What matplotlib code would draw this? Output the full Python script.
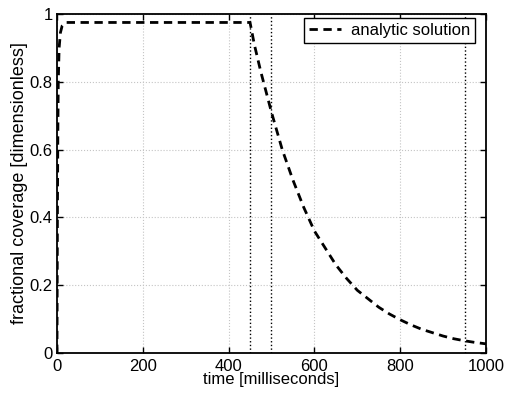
import matplotlib
matplotlib.use("Agg")
import matplotlib.pyplot as plt

plt.rcParams["font.family"] = ["Liberation Sans", "DejaVu Sans"]

# coverage
time_ms = [0, 1, 2, 3, 5, 8, 12, 20, 450, 460, 475, 500, 525, 550, 575, 600,
           625, 650, 675, 700, 725, 750, 775, 800, 825, 850, 875, 900, 925,
           950, 975, 1000]
coverage = [0.0, 0.40, 0.65, 0.80, 0.90, 0.945, 0.965, 0.975, 0.975, 0.91,
            0.83, 0.71, 0.60, 0.51, 0.43, 0.36, 0.31, 0.26, 0.22, 0.185,
            0.16, 0.135, 0.115, 0.098, 0.083, 0.07, 0.06, 0.05, 0.042,
            0.036, 0.031, 0.027]

marker_times = [450, 500, 950]
x_ticks = [0, 200, 400, 600, 800, 1000]
y_ticks = [0, 0.2, 0.4, 0.6, 0.8, 1]
y_tick_labels = ["0", "0.2", "0.4", "0.6", "0.8", "1"]

fig = plt.figure(figsize=(5.07, 3.93), dpi=100)
ax = fig.add_axes([0.1124, 0.1018, 0.8462, 0.8626])

ax.grid(True, color="#c4c4c4", linestyle=":", linewidth=0.8)
for t in marker_times:
    ax.axvline(t, color="black", linestyle=":", linewidth=1.0)

ax.plot(time_ms, coverage, color="black", linestyle=(0, (3, 2)),
        linewidth=2.0, label="analytic solution")

ax.set_xlim(0, 1000)
ax.set_ylim(0, 1)
ax.set_xticks(x_ticks)
ax.set_yticks(y_ticks)
ax.set_yticklabels(y_tick_labels)
ax.tick_params(direction="in", top=True, right=True, labelsize=12,
               length=4, width=1.0)
ax.tick_params(axis="x", pad=4)
ax.tick_params(axis="y", pad=3)
for s in ax.spines.values():
    s.set_linewidth(1.3)

ax.set_xlabel("time [milliseconds]", fontsize=12, labelpad=-1)
ax.set_ylabel("fractional coverage [dimensionless]", fontsize=13, labelpad=1)

leg = ax.legend(loc="upper right", bbox_to_anchor=(0.974, 0.988),
                fontsize=12, fancybox=False, edgecolor="black", framealpha=1,
                borderpad=0.3, handlelength=1.9, handletextpad=0.6,
                borderaxespad=0)
leg.get_frame().set_linewidth(1.0)

fig.savefig("out.png", dpi=100)
